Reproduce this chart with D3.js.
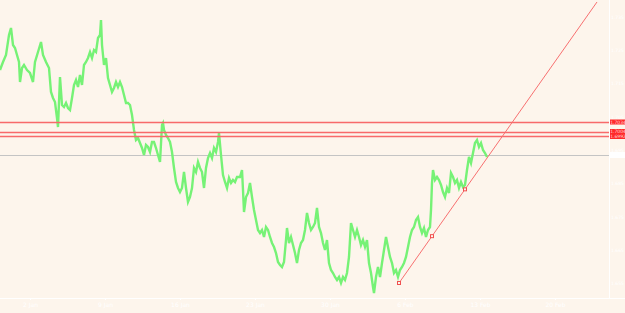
<!DOCTYPE html>
<html>
<head>
<meta charset="utf-8">
<script src="https://cdn.jsdelivr.net/npm/d3@7"></script>
<style>
  body { margin: 0; background: #fdf5ec; }
  svg { display: block; }
</style>
</head>
<body>
<svg width="625" height="313"></svg>
<script>
// bar index of each sampled quote
var bars = [0,3,6,9,11,13,15,17,19,20,22,24,27,30,33,35,38,41,43,46,49,51,53,55,57,58,60,62,64,66,68,70,72,74,76,78,80,82,84,86,88,90,92,94,96,98,100,101,102,104,106,108,110,112,114,116,118,120,122,124,126,128,130,132,134,136,138,140,142,144,146,148,150,152,154,156,158,160,162,163,164,166,168,170,172,174,176,178,180,182,184,186,188,190,192,194,196,198,200,202,204,206,208,210,212,214,216,218,219,221,223,225,227,229,231,233,235,237,240,242,243,244,246,248,250,252,254,256,258,260,262,264,266,268,270,272,274,276,278,280,282,284,286,287,289,291,293,295,297,299,301,303,305,307,309,311,313,315,317,319,321,323,325,327,329,331,333,335,337,339,341,343,345,347,349,351,353,355,357,359,361,363,365,367,369,371,373,374,376,378,380,382,384,386,388,390,392,394,396,398,400,402,404,406,408,410,412,414,416,418,420,422,424,426,428,430,431,432,433,435,437,439,441,443,445,447,449,451,453,455,457,459,461,463,465,467,469,471,473,475,477,479,481,483,485,487];

// quote at each bar
var quotes = [1.7190,1.7214,1.7235,1.7295,1.7316,1.7265,1.7256,1.7235,1.7214,1.7154,1.7196,1.7205,1.7190,1.7181,1.7154,1.7214,1.7244,1.7274,1.7235,1.7214,1.7196,1.7124,1.7106,1.7094,1.7046,1.7019,1.7169,1.7085,1.7079,1.7091,1.7076,1.7070,1.7106,1.7145,1.7160,1.7139,1.7175,1.7145,1.7205,1.7214,1.7226,1.7244,1.7226,1.7250,1.7244,1.7286,1.7295,1.7340,1.7265,1.7205,1.7226,1.7166,1.7145,1.7124,1.7136,1.7154,1.7139,1.7154,1.7139,1.7115,1.7091,1.7091,1.7085,1.7055,1.7010,1.6980,1.6986,1.6971,1.6956,1.6935,1.6965,1.6959,1.6944,1.6974,1.6974,1.6956,1.6935,1.6914,1.7025,1.7031,1.7010,1.6995,1.6986,1.6974,1.6944,1.6896,1.6854,1.6836,1.6824,1.6836,1.6884,1.6836,1.6794,1.6809,1.6836,1.6896,1.6884,1.6914,1.6896,1.6884,1.6836,1.6896,1.6926,1.6941,1.6926,1.6956,1.6944,1.6974,1.7001,1.6935,1.6875,1.6854,1.6836,1.6866,1.6851,1.6860,1.6854,1.6869,1.6869,1.6890,1.6830,1.6764,1.6809,1.6821,1.6851,1.6809,1.6770,1.6740,1.6710,1.6701,1.6710,1.6689,1.6719,1.6710,1.6689,1.6671,1.6659,1.6641,1.6614,1.6605,1.6599,1.6614,1.6680,1.6716,1.6671,1.6689,1.6665,1.6641,1.6611,1.6650,1.6671,1.6680,1.6710,1.6761,1.6731,1.6710,1.6719,1.6731,1.6776,1.6719,1.6701,1.6671,1.6650,1.6680,1.6611,1.6590,1.6581,1.6569,1.6560,1.6569,1.6551,1.6569,1.6560,1.6581,1.6629,1.6731,1.6710,1.6689,1.6710,1.6689,1.6665,1.6680,1.6659,1.6680,1.6611,1.6581,1.6539,1.6521,1.6569,1.6599,1.6569,1.6611,1.6650,1.6689,1.6659,1.6629,1.6611,1.6581,1.6590,1.6569,1.6590,1.6599,1.6611,1.6629,1.6659,1.6689,1.6710,1.6719,1.6740,1.6749,1.6719,1.6701,1.6716,1.6689,1.6710,1.6719,1.6770,1.6851,1.6890,1.6860,1.6869,1.6860,1.6845,1.6824,1.6809,1.6836,1.6821,1.6881,1.6869,1.6851,1.6860,1.6836,1.6854,1.6839,1.6845,1.6890,1.6929,1.6911,1.6941,1.6971,1.6980,1.6959,1.6971,1.6950,1.6941,1.6929];

// horizontal levels
var levelPrices = [1.7034, 1.7004, 1.6992];
var levelLabels = ["1.7034", "1.7004", "1.6992"];
var greyLevel = 1.6935;

// trend line (bar, price) and its anchor points
var trendBars = [399, 597];
var trendPrices = [1.6551, 1.7394];
var anchorBars = [399, 432, 465];

var priceTicks = [1.735, 1.725, 1.715, 1.705, 1.695, 1.685, 1.675, 1.665, 1.655];
var timeTicks = ["2 Jan", "9 Jan", "16 Jan", "23 Jan", "30 Jan", "6 Feb", "13 Feb", "20 Feb"];

var svg = d3.select("svg");
var plotW = 609, plotH = 298;

var x = d3.scaleLinear().domain([0, 609]).range([0, plotW]);
var y = d3.scaleLinear().domain([1.74 - 0.0003 * plotH, 1.74]).range([plotH, 0]);

svg.append("rect").attr("width", 625).attr("height", 313).attr("fill", "#fdf5ec");

// axis separators, very faint like the source
svg.append("line").attr("x1", plotW + 0.5).attr("x2", plotW + 0.5).attr("y1", 0).attr("y2", plotH)
  .attr("stroke", "#ffffff").attr("stroke-width", 1);
svg.append("line").attr("x1", 0).attr("x2", 625).attr("y1", plotH + 0.5).attr("y2", plotH + 0.5)
  .attr("stroke", "#ffffff").attr("stroke-width", 1);

// right price axis (white text, barely visible)
var yAxis = d3.axisRight(y).tickValues(priceTicks).tickFormat(d3.format(".3f")).tickSize(0);
var ya = svg.append("g").attr("transform", "translate(" + plotW + ",0)").call(yAxis);
ya.select(".domain").remove();
ya.selectAll("text").attr("fill", "#ffffff").attr("font-size", 4.5).attr("font-family", "DejaVu Sans").attr("x", 2);

// bottom time axis
var xAxis = d3.axisBottom(x).tickValues(d3.range(timeTicks.length).map(function(i) { return 30 + i * 75; }))
  .tickFormat(function(d, i) { return timeTicks[i]; }).tickSize(2);
var xa = svg.append("g").attr("transform", "translate(0," + plotH + ")").call(xAxis);
xa.select(".domain").remove();
xa.selectAll("line").attr("stroke", "#ffffff");
xa.selectAll("text").attr("fill", "#ffffff").attr("font-size", 6).attr("font-family", "DejaVu Sans");

// grey level
svg.append("line")
  .attr("x1", 0).attr("x2", plotW)
  .attr("y1", Math.round(y(greyLevel)) + 0.5).attr("y2", Math.round(y(greyLevel)) + 0.5)
  .attr("stroke", "#c4c4c4").attr("stroke-width", 1.2);
svg.append("rect")
  .attr("x", plotW + 1).attr("y", Math.round(y(greyLevel)) - 3)
  .attr("width", 16).attr("height", 6).attr("fill", "#ffffff");

// price line
var line = d3.line()
  .x(function(d, i) { return x(bars[i]); })
  .y(function(d) { return y(d); });

svg.append("path")
  .datum(quotes)
  .attr("d", line)
  .attr("fill", "none")
  .attr("stroke", "#76f276")
  .attr("stroke-width", 2.4)
  .attr("stroke-linejoin", "miter");

// red levels
svg.selectAll(".level").data(levelPrices).enter().append("line")
  .attr("class", "level")
  .attr("x1", 0).attr("x2", plotW)
  .attr("y1", function(d) { return Math.round(y(d)) + 0.5; })
  .attr("y2", function(d) { return Math.round(y(d)) + 0.5; })
  .attr("stroke", "#f86a6a").attr("stroke-width", 1.3);

// price tags, pushed apart so they stack instead of overlapping
var tagH = 5;
var tagY = [];
levelPrices.forEach(function(p, i) {
  var ty = Math.round(y(p)) - tagH / 2;
  if (i > 0 && ty < tagY[i - 1] + tagH) ty = tagY[i - 1] + tagH;
  tagY.push(ty);
});
// keep the stacked pair centred on its two lines
if (tagY[2] - tagY[1] === tagH) {
  var mid = (y(levelPrices[1]) + y(levelPrices[2])) / 2;
  tagY[1] = mid - tagH; tagY[2] = mid;
}

var tag = svg.selectAll(".tag").data(levelPrices).enter().append("g")
  .attr("class", "tag")
  .attr("transform", function(d, i) { return "translate(" + (plotW + 1) + "," + tagY[i] + ")"; });
tag.append("rect").attr("width", 16).attr("height", tagH).attr("fill", "#ff2a2a");
tag.append("text")
  .attr("x", 8).attr("y", 4.2)
  .attr("text-anchor", "middle")
  .attr("font-size", 4.5).attr("font-family", "DejaVu Sans")
  .attr("fill", "#ffd0d0")
  .text(function(d, i) { return levelLabels[i]; });

// trend line
var slope = (trendPrices[1] - trendPrices[0]) / (trendBars[1] - trendBars[0]);
svg.append("line")
  .attr("x1", x(trendBars[0])).attr("y1", y(trendPrices[0]))
  .attr("x2", x(trendBars[1])).attr("y2", y(trendPrices[1]))
  .attr("stroke", "#f77070").attr("stroke-width", 1);

svg.selectAll(".anchor").data(anchorBars).enter().append("rect")
  .attr("class", "anchor")
  .attr("x", function(d) { return x(d) - 1.5; })
  .attr("y", function(d) { return y(trendPrices[0] + slope * (d - trendBars[0])) - 1.5; })
  .attr("width", 3).attr("height", 3)
  .attr("fill", "#fdf5ec").attr("stroke", "#f05050").attr("stroke-width", 1);
</script>
</body>
</html>
